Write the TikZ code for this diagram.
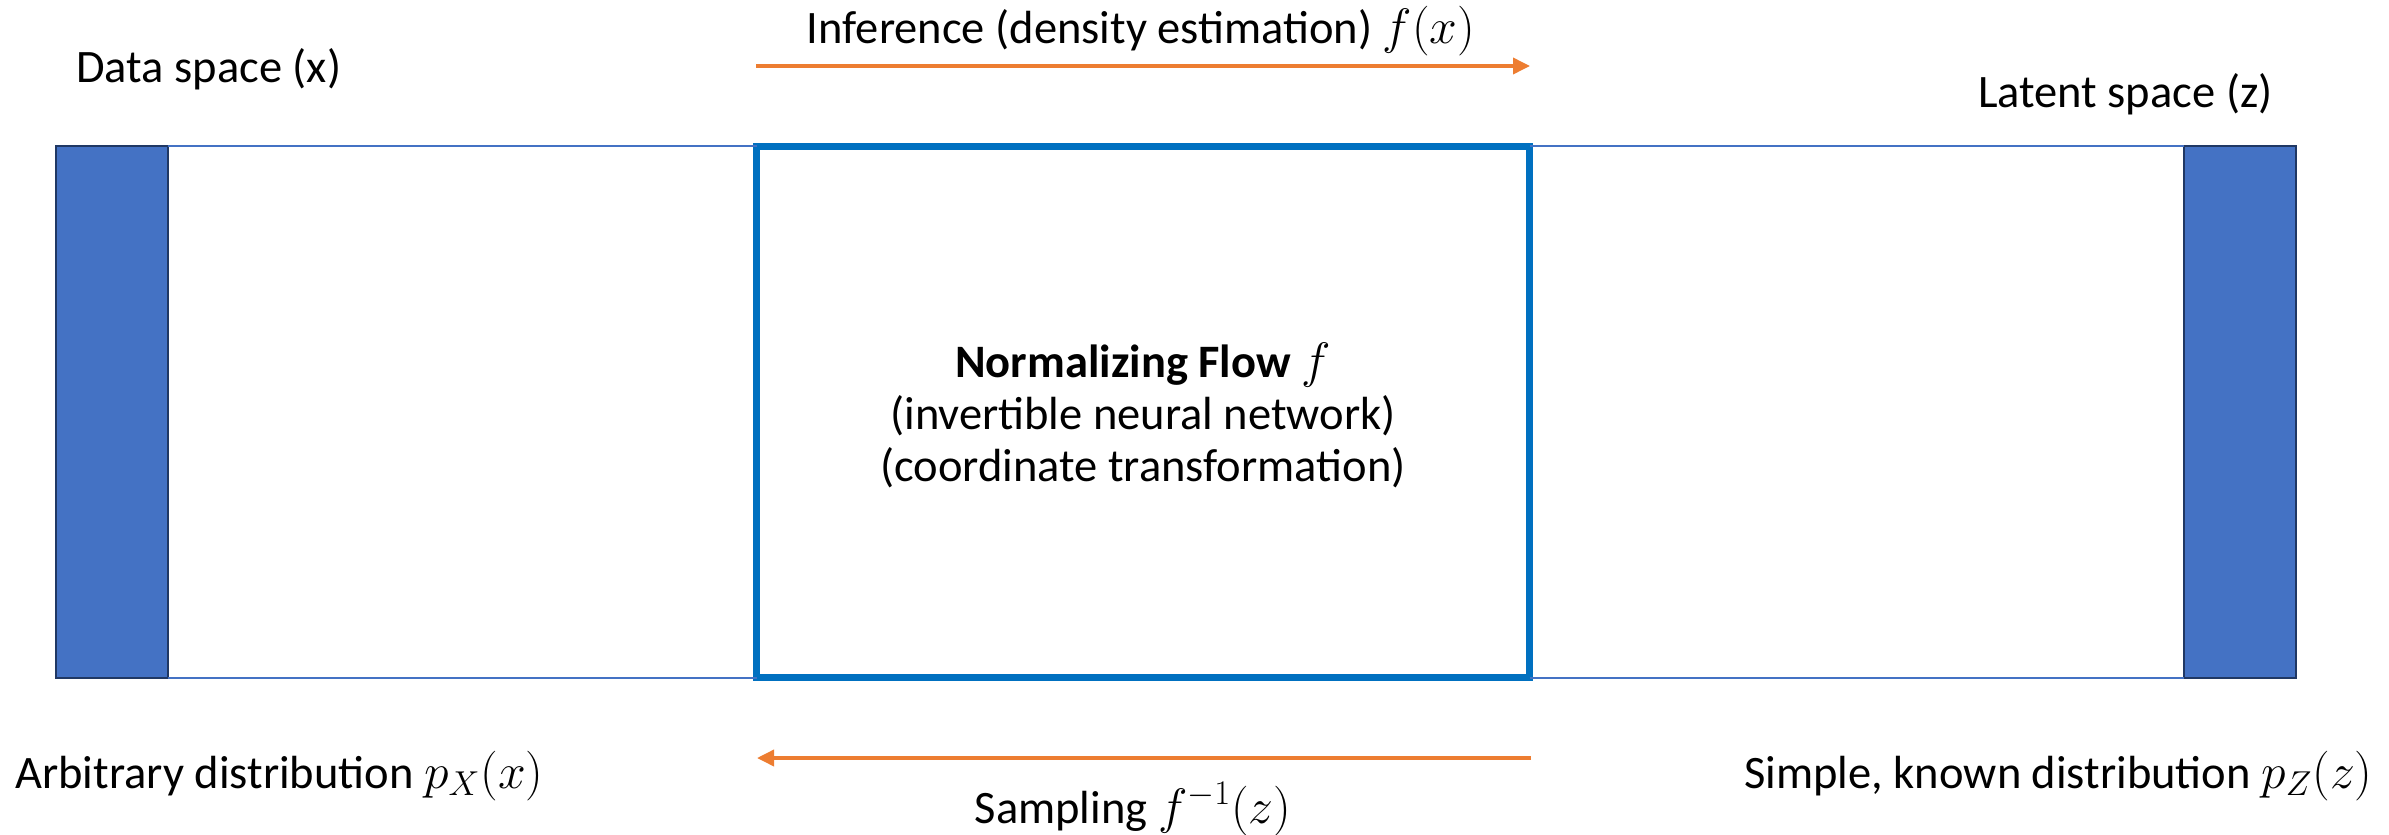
\documentclass[tikz,border=0pt]{standalone}
\usepackage{fontspec}
\setmainfont{Carlito}
\usetikzlibrary{arrows.meta}
\definecolor{barblue}{HTML}{4472C4}
\definecolor{barborder}{HTML}{203864}
\definecolor{boxblue}{HTML}{0070C0}
\definecolor{arrorange}{HTML}{ED7D31}
\begin{document}
\begin{tikzpicture}[x=0.5pt,y=-0.5pt,
  bar/.style={draw=barborder, line width=1pt, fill=barblue, minimum width=56pt, minimum height=266pt, inner sep=0pt, outer sep=0pt},
  flowbox/.style={draw=boxblue, line width=3.5pt, minimum width=386.5pt, minimum height=265.5pt, inner sep=0pt, outer sep=0pt},
  thin/.style={draw=barblue, line width=0.8pt},
  arr/.style={draw=arrorange, line width=1.8pt, -{Triangle[length=8.5pt,width=8pt]}},
  lbl/.style={inner sep=0pt, font=\fontsize{23.25}{28}\selectfont}
]
\useasboundingbox (0,0) rectangle (2389,835);
% shapes
\node[bar] (lbar) at (112,412) {};
\node[bar] (rbar) at (2240,412) {};
\node[flowbox] (box) at (1143,412) {};
% thin connecting lines
\draw[thin] (lbar.north east) -- (lbar.north east -| box.west);
\draw[thin] (lbar.south east) -- (lbar.south east -| box.west);
\draw[thin] (rbar.north west -| box.east) -- (rbar.north west);
\draw[thin] (rbar.south west -| box.east) -- (rbar.south west);
% arrows
\coordinate (infA) at (756,66);
\coordinate (infB) at (1530,66);
\coordinate (sampA) at (1531,758);
\coordinate (sampB) at (757,758);
\draw[arr] (infA) -- (infB);
\draw[arr] (sampA) -- (sampB);
% labels
\node[lbl, anchor=base west] (datalbl) at (76,83) {Data space (x)};
\node[lbl, anchor=base] (inflbl) at (1141,43) {Inference (density estimation) $f(x)$};
\node[lbl, anchor=base east] (latlbl) at (2273,107) {Latent space (z)};
\node[lbl, anchor=base west] (arblbl) at (15,788) {Arbitrary distribution $p_X(x)$};
\node[lbl, anchor=base] (samplbl) at (1133,823) {Sampling $f^{-1}(z)$};
\node[lbl, anchor=base east] (simplbl) at (2373,788) {Simple, known distribution $p_Z(z)$};
\node[lbl, align=center, font=\fontsize{23.25}{26}\selectfont] (flowlbl) at (1143,415)
  {\textbf{Normalizing Flow} $f$\\(invertible neural network)\\(coordinate transformation)};
\end{tikzpicture}
\end{document}
